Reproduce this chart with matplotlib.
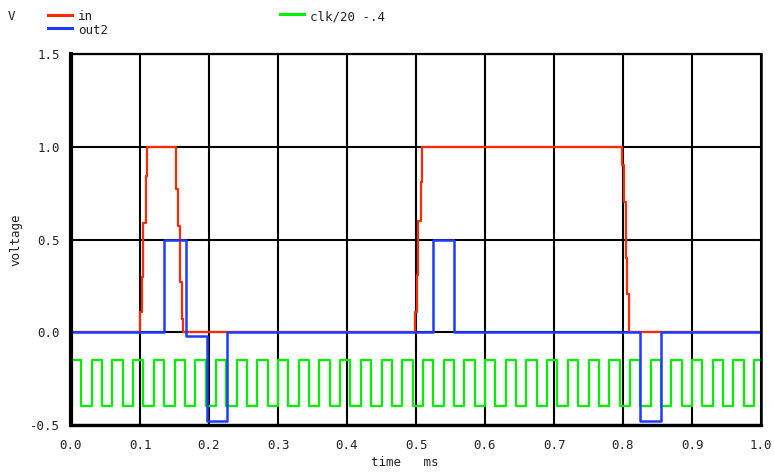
import matplotlib
matplotlib.use("Agg")
import matplotlib.pyplot as plt
from matplotlib.lines import Line2D

# ---- datos (tiempo en ms, voltaje en V) ----
in_t = [0.0, 0.1000, 0.1024, 0.1048, 0.1082, 0.1106,
        0.1522, 0.1556, 0.1580, 0.1604, 0.1628,
        0.4986, 0.5010, 0.5034, 0.5068, 0.5092,
        0.7990, 0.8014, 0.8039, 0.8063, 0.8091, 1.0]
in_v = [0.0, 0.11, 0.30, 0.59, 0.84, 1.0,
        0.77, 0.575, 0.27, 0.07, 0.0,
        0.11, 0.31, 0.60, 0.81, 1.0,
        0.90, 0.70, 0.40, 0.205, 0.0, 0.0]

out2_t = [0.0, 0.1353, 0.1667, 0.1966, 0.2256, 0.5250, 0.5555, 0.8246, 0.8550, 1.0]
out2_v = [0.0, 0.5, -0.02, -0.48, 0.0, 0.5, 0.0, -0.48, 0.0, 0.0]

clk_t = [0.000, 0.001, 0.015, 0.030, 0.045, 0.060, 0.075, 0.090, 0.105, 0.120,
         0.135, 0.150, 0.165, 0.180, 0.195, 0.210, 0.225, 0.240, 0.255, 0.270,
         0.285, 0.300, 0.315, 0.330, 0.345, 0.360, 0.375, 0.390, 0.405, 0.420,
         0.435, 0.450, 0.465, 0.480, 0.495, 0.510, 0.525, 0.540, 0.555, 0.570,
         0.585, 0.600, 0.615, 0.630, 0.645, 0.660, 0.675, 0.690, 0.705, 0.720,
         0.735, 0.750, 0.765, 0.780, 0.795, 0.810, 0.825, 0.840, 0.855, 0.870,
         0.885, 0.900, 0.915, 0.930, 0.945, 0.960, 0.975, 0.990, 1.000]
clk_v = [0, 5, 0, 5, 0, 5, 0, 5, 0, 5,
         0, 5, 0, 5, 0, 5, 0, 5, 0, 5,
         0, 5, 0, 5, 0, 5, 0, 5, 0, 5,
         0, 5, 0, 5, 0, 5, 0, 5, 0, 5,
         0, 5, 0, 5, 0, 5, 0, 5, 0, 5,
         0, 5, 0, 5, 0, 5, 0, 5, 0, 5,
         0, 5, 0, 5, 0, 5, 0, 5, 5]
clk_plot = [v / 20 - 0.4 for v in clk_v]

x_ticks = [0.0, 0.1, 0.2, 0.3, 0.4, 0.5, 0.6, 0.7, 0.8, 0.9, 1.0]
y_ticks = [-0.5, 0.0, 0.5, 1.0, 1.5]

RED = "#ff2a00"
BLUE = "#1e3cff"
GREEN = "#00f000"
FONT = "DejaVu Sans Mono"
TXT = "#222222"

plt.rcParams["font.family"] = FONT

fig = plt.figure(figsize=(7.74, 4.72), dpi=100)
ax = fig.add_axes([71 / 774, 1 - 425 / 472, 690 / 774, 371 / 472])

for xt in x_ticks:
    ax.axvline(xt, color="black", lw=1.5, zorder=1)
for yt in y_ticks:
    ax.axhline(yt, color="black", lw=1.5, zorder=1)

ax.plot(in_t, in_v, drawstyle="steps-post", color=RED, lw=1.6, zorder=3)
ax.plot(out2_t, out2_v, drawstyle="steps-post", color=BLUE, lw=1.8, zorder=4)
ax.plot(clk_t, clk_plot, drawstyle="steps-post", color=GREEN, lw=1.6, zorder=3)

ax.set_xlim(0, 1.0)
ax.set_ylim(-0.5, 1.5)
ax.set_xticks(x_ticks)
ax.set_xticklabels([f"{x:.1f}" for x in x_ticks])
ax.set_yticks(y_ticks)
ax.set_yticklabels([f"{y:.1f}" for y in y_ticks])
ax.tick_params(length=0, labelsize=9, colors=TXT, pad=8)
ax.tick_params(axis="x", pad=10)

ax.spines["left"].set_linewidth(3.0)
ax.spines["bottom"].set_linewidth(2.4)
ax.spines["top"].set_linewidth(1.6)
ax.spines["right"].set_linewidth(1.8)
for s in ax.spines.values():
    s.set_zorder(5)

fig.text(16 / 774, 1 - 240 / 472, "voltage", rotation=90, ha="center", va="center",
         fontsize=9, color=TXT)
fig.text(405 / 774, 1 - 463 / 472, "time   ms", ha="center", va="center",
         fontsize=9, color=TXT)

# leyenda a mano como en el original
fig.text(8 / 774, 1 - 17 / 472, "V", ha="left", va="center", fontsize=9, color=TXT)
fig.add_artist(Line2D([48 / 774, 72 / 774], [1 - 15 / 472, 1 - 15 / 472], color=RED, lw=2.2))
fig.text(78 / 774, 1 - 17 / 472, "in", ha="left", va="center", fontsize=9, color=TXT)
fig.add_artist(Line2D([48 / 774, 72 / 774], [1 - 28 / 472, 1 - 28 / 472], color=BLUE, lw=2.2))
fig.text(78 / 774, 1 - 31 / 472, "out2", ha="left", va="center", fontsize=9, color=TXT)
fig.add_artist(Line2D([280 / 774, 304 / 774], [1 - 14 / 472, 1 - 14 / 472], color=GREEN, lw=2.2))
fig.text(310 / 774, 1 - 17 / 472, "clk/20 -.4", ha="left", va="center", fontsize=9, color=TXT)

fig.savefig("out.png", dpi=100)
